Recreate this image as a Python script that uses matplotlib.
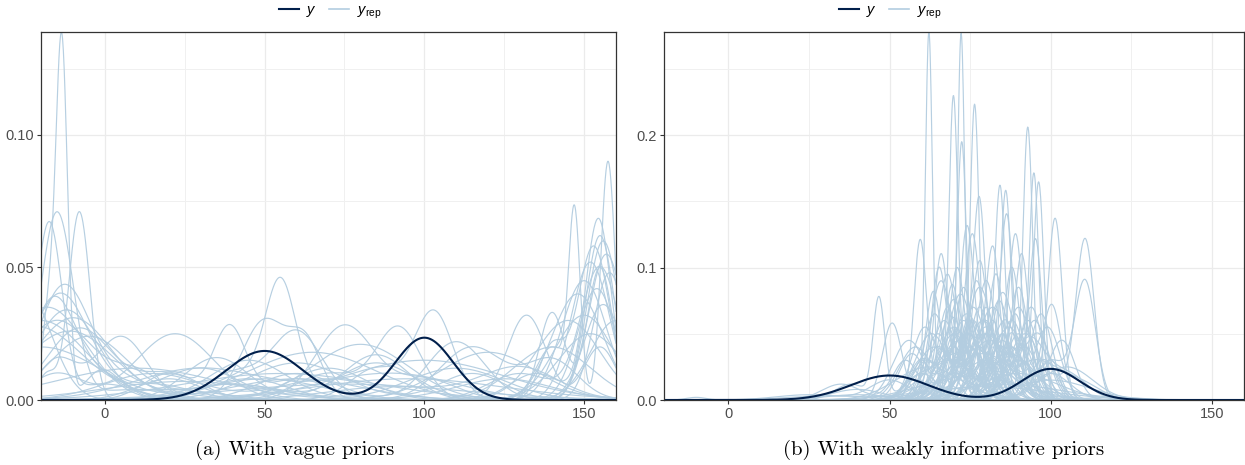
import matplotlib.pyplot as plt
import numpy as np
from matplotlib.lines import Line2D
from matplotlib.ticker import MultipleLocator, FormatStrFormatter

plt.rcParams['font.family'] = ['Liberation Sans', 'DejaVu Sans']
plt.rcParams['mathtext.fontset'] = 'custom'
plt.rcParams['mathtext.it'] = 'Liberation Sans:italic'
plt.rcParams['mathtext.rm'] = 'Liberation Sans'

# density curves, each one as a list of (centre, height, sd) bumps
y_obs = [(50, 0.0185, 12), (100, 0.0235, 9)]

vague_reps = [
    [(-13.5, 0.133, 1.8), (-17.5, 0.035, 2), (-1, 0.01, 5), (20, 0.004, 15)],
    [(-15, 0.07, 5.0), (10, 0.004, 15)],
    [(-17.5, 0.066, 4.0), (0, 0.006, 10)],
    [(-8, 0.071, 3.3), (-18, 0.01, 3)],
    [(-13, 0.042, 8), (5, 0.008, 10)],
    [(-14, 0.040, 9), (15, 0.006, 12)],
    [(-16, 0.038, 7), (0, 0.008, 8)],
    [(-12, 0.034, 10)],
    [(-10, 0.031, 12), (40, 0.006, 15)],
    [(-18, 0.035, 12)],
    [(-20, 0.03, 14), (60, 0.008, 20)],
    [(-8, 0.027, 10), (20, 0.01, 10)],
    [(-5, 0.024, 12), (50, 0.008, 18)],
    [(-25, 0.042, 8)],
    [(-22, 0.028, 15), (30, 0.012, 12)],
    [(5, 0.024, 8), (-15, 0.015, 6)],
    [(-15, 0.03, 11), (10, 0.01, 8)],
    [(-11, 0.026, 14)],
    [(-20, 0.02, 18), (45, 0.008, 12)],
    [(22, 0.025, 12), (-15, 0.01, 8)],
    [(39, 0.027, 5), (20, 0.01, 8), (60, 0.008, 10)],
    [(55, 0.035, 4.5), (50, 0.012, 14)],
    [(50, 0.03, 7), (63, 0.02, 5)],
    [(60, 0.026, 8), (40, 0.01, 8)],
    [(75, 0.028, 9), (100, 0.008, 10)],
    [(92, 0.027, 7), (70, 0.01, 10)],
    [(103, 0.033, 6), (85, 0.012, 8)],
    [(132, 0.032, 6), (155, 0.02, 5)],
    [(115, 0.02, 10), (140, 0.015, 8)],
    [(80, 0.021, 15)],
    [(65, 0.018, 20)],
    [(100, 0.015, 25)],
    [(30, 0.012, 20), (90, 0.01, 20)],
    [(45, 0.015, 12), (110, 0.012, 15)],
    [(120, 0.018, 15)],
    [(10, 0.012, 25)],
    [(140, 0.02, 12)],
    [(70, 0.012, 12), (20, 0.008, 10)],
    [(35, 0.016, 10), (85, 0.014, 12)],
    [(110, 0.022, 9), (60, 0.01, 12)],
    [(55, 0.01, 30)],
    [(95, 0.008, 30)],
    [(25, 0.007, 25), (125, 0.008, 15)],
    [(75, 0.006, 35)],
    [(60, 0.014, 15), (115, 0.01, 10)],
    [(85, 0.017, 10), (40, 0.006, 15)],
    [(15, 0.01, 15), (70, 0.008, 15)],
    [(130, 0.012, 12), (90, 0.005, 20)],
    [(147, 0.066, 1.8), (157.5, 0.09, 2.2), (140, 0.02, 5)],
    [(154.5, 0.068, 4), (135, 0.01, 8)],
    [(155, 0.062, 4.5)],
    [(156, 0.06, 5)],
    [(153, 0.058, 5), (140, 0.02, 4)],
    [(157, 0.055, 5.5)],
    [(152, 0.052, 6)],
    [(155, 0.05, 6), (130, 0.01, 10)],
    [(158, 0.048, 5)],
    [(150, 0.045, 7)],
    [(154, 0.042, 6)],
    [(148, 0.04, 8)],
    [(156, 0.036, 6)],
    [(150, 0.032, 9)],
    [(145, 0.03, 10)],
    [(140, 0.033, 4), (155, 0.05, 4)],
    [(160, 0.03, 8)],
    [(152, 0.025, 10)],
]

weak_reps = [
    [(62.2, 0.275, 1.1), (70, 0.02, 4), (85, 0.015, 6)],
    [(72.2, 0.272, 1.1), (80, 0.03, 4), (60, 0.01, 5)],
    [(69.8, 0.225, 1.4), (78, 0.04, 4)],
    [(76.4, 0.22, 1.4), (68, 0.03, 4)],
    [(72.4, 0.195, 1.5), (85, 0.05, 3)],
    [(92.9, 0.205, 1.5), (80, 0.03, 5)],
    [(94.8, 0.17, 1.5), (85, 0.03, 4)],
    [(96.3, 0.16, 1.6), (88, 0.04, 4)],
    [(84.3, 0.155, 1.6), (75, 0.04, 5)],
    [(86.0, 0.155, 1.6), (93, 0.05, 3)],
    [(77.8, 0.152, 2), (70, 0.05, 3)],
    [(101.4, 0.135, 2.2), (90, 0.03, 5)],
    [(110.7, 0.12, 2.8), (100, 0.02, 5)],
    [(110.7, 0.088, 3.2), (100, 0.03, 5)],
    [(74, 0.13, 2.2), (82, 0.06, 3)],
    [(95.3, 0.12, 2.0), (85, 0.05, 4)],
    [(86.4, 0.135, 2.0), (78, 0.05, 4)],
    [(89.1, 0.125, 2.2), (80, 0.06, 3)],
    [(65.4, 0.1, 2.5), (75, 0.06, 3)],
    [(59.5, 0.12, 2.0), (70, 0.04, 4)],
    [(46.7, 0.075, 1.8), (38, 0.012, 5), (60, 0.02, 5)],
    [(50.8, 0.058, 3.0), (70, 0.02, 6)],
    [(56, 0.045, 5), (75, 0.02, 5)],
    [(63.6, 0.082, 2.5), (80, 0.03, 4)],
    [(69.5, 0.087, 2.5), (60, 0.03, 3)],
    [(75.7, 0.125, 2.5), (65, 0.02, 4)],
    [(100.3, 0.072, 3), (85, 0.03, 5)],
    [(103.5, 0.045, 4), (90, 0.04, 4)],
    [(66, 0.11, 2.2), (75, 0.05, 3)],
    [(68, 0.095, 3)],
    [(71, 0.1, 2.5), (82, 0.04, 3)],
    [(73, 0.085, 3), (88, 0.04, 3)],
    [(78, 0.105, 2.5), (90, 0.03, 4)],
    [(80, 0.09, 3), (70, 0.04, 3)],
    [(82, 0.115, 2.3), (72, 0.03, 4)],
    [(84, 0.075, 3.5)],
    [(88, 0.1, 2.5), (78, 0.04, 3)],
    [(90, 0.085, 3), (100, 0.03, 3)],
    [(91, 0.11, 2.2), (82, 0.05, 3)],
    [(94, 0.07, 3.5), (84, 0.04, 3)],
    [(97, 0.065, 3.5)],
    [(99, 0.055, 4), (86, 0.03, 4)],
    [(64, 0.065, 3.5), (78, 0.04, 4)],
    [(61, 0.055, 4), (72, 0.05, 3)],
    [(58, 0.04, 5), (70, 0.06, 3)],
    [(76, 0.07, 4), (88, 0.05, 3)],
    [(79, 0.06, 5)],
    [(83, 0.095, 2.5), (93, 0.06, 3)],
    [(70, 0.075, 3.5), (60, 0.02, 4)],
    [(67, 0.06, 4), (85, 0.045, 4)],
    [(86, 0.06, 4), (74, 0.05, 4)],
    [(92, 0.05, 5), (72, 0.03, 5)],
    [(74, 0.05, 6)],
    [(81, 0.045, 7)],
    [(77, 0.038, 9)],
    [(87, 0.035, 8)],
    [(68, 0.03, 8)],
    [(95, 0.03, 8), (110, 0.01, 6)],
    [(105, 0.025, 8)],
    [(62, 0.025, 10)],
    [(90, 0.02, 12), (40, 0.004, 10)],
    [(75, 0.018, 15)],
    [(85, 0.012, 18), (30, 0.003, 12)],
    [(100, 0.015, 12)],
    [(80, 0.01, 20)],
    [(35, 0.012, 6), (55, 0.03, 4), (75, 0.04, 4)],
    [(-10, 0.002, 3), (40, 0.008, 8), (65, 0.05, 4)],
    [(66, 0.09, 3.5), (80, 0.07, 3)],
    [(72, 0.08, 4), (90, 0.05, 4)],
    [(78, 0.085, 4), (65, 0.04, 4)],
    [(85, 0.08, 3.5), (96, 0.05, 4)],
    [(90, 0.07, 4), (75, 0.06, 3)],
    [(74, 0.065, 5), (60, 0.03, 4)],
    [(82, 0.07, 5)],
    [(70, 0.055, 5), (88, 0.06, 4)],
    [(63, 0.05, 5), (80, 0.055, 5)],
    [(87, 0.055, 5), (70, 0.035, 4)],
    [(77, 0.09, 3), (92, 0.04, 4)],
    [(95, 0.06, 4), (80, 0.05, 4)],
    [(68, 0.07, 3), (78, 0.07, 3)],
    [(80, 0.05, 6), (98, 0.03, 4)],
    [(72, 0.045, 7)],
    [(85, 0.04, 6), (62, 0.03, 5)],
    [(76, 0.06, 3.5), (100, 0.02, 6)],
    [(89, 0.065, 3), (70, 0.05, 5)],
    [(57, 0.035, 4), (73, 0.06, 4)],
    [(93, 0.045, 5), (105, 0.02, 6)],
    [(64, 0.04, 6), (90, 0.03, 6)],
    [(79, 0.035, 10), (120, 0.002, 8)],
    [(25, 0.004, 10), (50, 0.015, 6), (80, 0.03, 8)],
]

x_range = (-20, 160)
x_ticks = [0, 50, 100, 150]
captions = ['(a) With vague priors', '(b) With weakly informative priors']
y_formats = ['%.2f', '%.1f']
y_steps = [0.05, 0.1]

light = '#b3cde0'
dark = '#011f4b'


def bumps_to_curve(x, bumps):
    d = np.zeros_like(x)
    for c, h, s in bumps:
        d += h * np.exp(-0.5 * ((x - c) / s) ** 2)
    return d


fig = plt.figure(figsize=(12.45, 4.65), dpi=100)
ax_a = fig.add_axes([41/1245, 65/465, 575/1245, 368/465])
ax_b = fig.add_axes([664/1245, 65/465, 580/1245, 368/465])

xs = np.linspace(x_range[0], x_range[1], 1441)
for ax, reps, fmt, step in zip([ax_a, ax_b], [vague_reps, weak_reps], y_formats, y_steps):
    top = 0
    for bumps in reps:
        d = bumps_to_curve(xs, bumps)
        top = max(top, d.max())
        ax.plot(xs, d, color=light, lw=0.85, alpha=0.95)
    ax.plot(xs, bumps_to_curve(xs, y_obs), color=dark, lw=1.5)
    ax.set_xlim(*x_range)
    ax.set_ylim(0, top)
    ax.set_xticks(x_ticks)
    ax.xaxis.set_minor_locator(MultipleLocator(25))
    ax.yaxis.set_major_locator(MultipleLocator(step))
    ax.yaxis.set_minor_locator(MultipleLocator(step / 2))
    ax.yaxis.set_major_formatter(FormatStrFormatter(fmt))
    ax.grid(True, which='major', color='#ebebeb', lw=0.9)
    ax.grid(True, which='minor', color='#f0f0f0', lw=0.7)
    ax.set_axisbelow(True)
    ax.tick_params(which='major', length=3, width=0.8, color='#333333',
                   labelcolor='#4d4d4d', labelsize=10.5, pad=2)
    ax.tick_params(which='minor', length=0)
    for sp in ax.spines.values():
        sp.set_color('#333333')
        sp.set_linewidth(0.9)

handles = [Line2D([], [], color=dark, lw=1.5), Line2D([], [], color=light, lw=1.2)]
labels = [r'$y$', r'$y_{\mathrm{rep}}$']
for cx in [330, 890]:
    fig.legend(handles, labels, loc='center', bbox_to_anchor=(cx/1245, 1 - 12/465),
               ncol=2, frameon=False, fontsize=10.5, handlelength=1.4,
               handletextpad=0.5, columnspacing=0.8, borderpad=0)

for cx, txt in zip([295, 944], captions):
    fig.text(cx/1245, (465 - 450)/465, txt, ha='center', va='center',
             family='cmr10', fontsize=15)

fig.savefig('out.png', dpi=100)
